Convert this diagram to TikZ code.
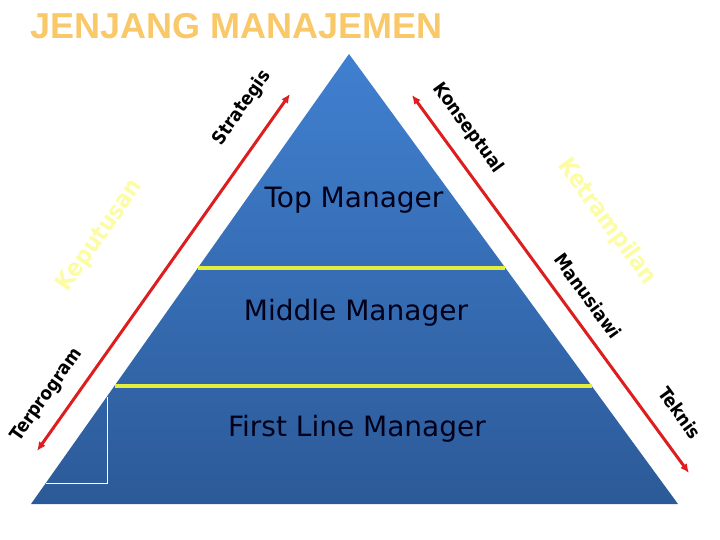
\documentclass[tikz,border=0pt]{standalone}
\usepackage{fontspec}
\setmainfont{DejaVu Sans}
\newfontfamily\titlefont{Liberation Sans}
\newfontfamily\condfont{DejaVu Sans Condensed}
\usetikzlibrary{arrows.meta}
\definecolor{pyrtop}{RGB}{64,128,208}
\definecolor{pyrbot}{RGB}{44,90,152}
\definecolor{lvline}{RGB}{228,238,60}
\definecolor{arrred}{RGB}{222,30,30}
\definecolor{paleyel}{RGB}{252,252,165}
\definecolor{titlecol}{RGB}{249,200,105}
\tikzset{
  redarrow/.style={draw=arrred, line width=3pt, {Latex[length=9pt,width=8pt]}-{Latex[length=9pt,width=8pt]}},
  sidelabel/.style={font=\condfont\fontsize{18.5}{18.5}\selectfont\bfseries, text=black, inner sep=0pt},
  biglabel/.style={font=\condfont\fontsize{24}{24}\selectfont\bfseries, text=paleyel, inner sep=0pt},
  levellabel/.style={font=\fontsize{28}{28}\selectfont, text=black!90!blue, inner sep=0pt},
  levelline/.style={draw=lvline, line width=4pt},
}
\begin{document}
\begin{tikzpicture}[x=1pt,y=-1pt]
\useasboundingbox (0,0) rectangle (720,540);
% pyramid corners
\coordinate (apex) at (349,54);
\coordinate (bl) at (31,504);
\coordinate (br) at (678,504);
\shade[top color=pyrtop, bottom color=pyrbot] (apex) -- (br) -- (bl) -- cycle;
% level lines
\coordinate (l1a) at (198,268);
\coordinate (l1b) at (505,268);
\coordinate (l2a) at (115,386);
\coordinate (l2b) at (592,386);
\draw[levelline] (l1a) -- (l1b);
\draw[levelline] (l2a) -- (l2b);
% small white corner
\coordinate (w1) at (107,397);
\coordinate (w2) at (107,483);
\coordinate (w3) at (46,483);
\draw[white, line width=1pt] (w1) -- (w2) -- (w3);
% red arrows
\coordinate (la) at (290,94);
\coordinate (lb) at (37,451);
\coordinate (ra) at (412,95);
\coordinate (rb) at (689,473);
\draw[redarrow] (lb) -- (la);
\draw[redarrow] (rb) -- (ra);
% title
\node[font=\titlefont\fontsize{36}{36}\selectfont\bfseries, text=titlecol, anchor=west, inner sep=0pt] (title) at (30,26) {JENJANG MANAJEMEN};
% level labels
\node[levellabel] (top) at (354,200) {Top Manager};
\node[levellabel] (mid) at (356,313) {Middle Manager};
\node[levellabel] (first) at (357,429) {First Line Manager};
% side labels
\node[sidelabel, rotate=54.7] (strat) at (242,108) {Strategis};
\node[sidelabel, rotate=-53.8] (kons) at (468,128) {Konseptual};
\node[biglabel, rotate=54.7] (kep) at (100,236) {Keputusan};
\node[biglabel, rotate=-53.8] (ket) at (607,222) {Ketrampilan};
\node[sidelabel, rotate=-53.8] (man) at (588,296) {Manusiawi};
\node[sidelabel, rotate=54.7] (terp) at (47,395) {Terprogram};
\node[sidelabel, rotate=-53.8] (tek) at (680,413) {Teknis};
\end{tikzpicture}
\end{document}
